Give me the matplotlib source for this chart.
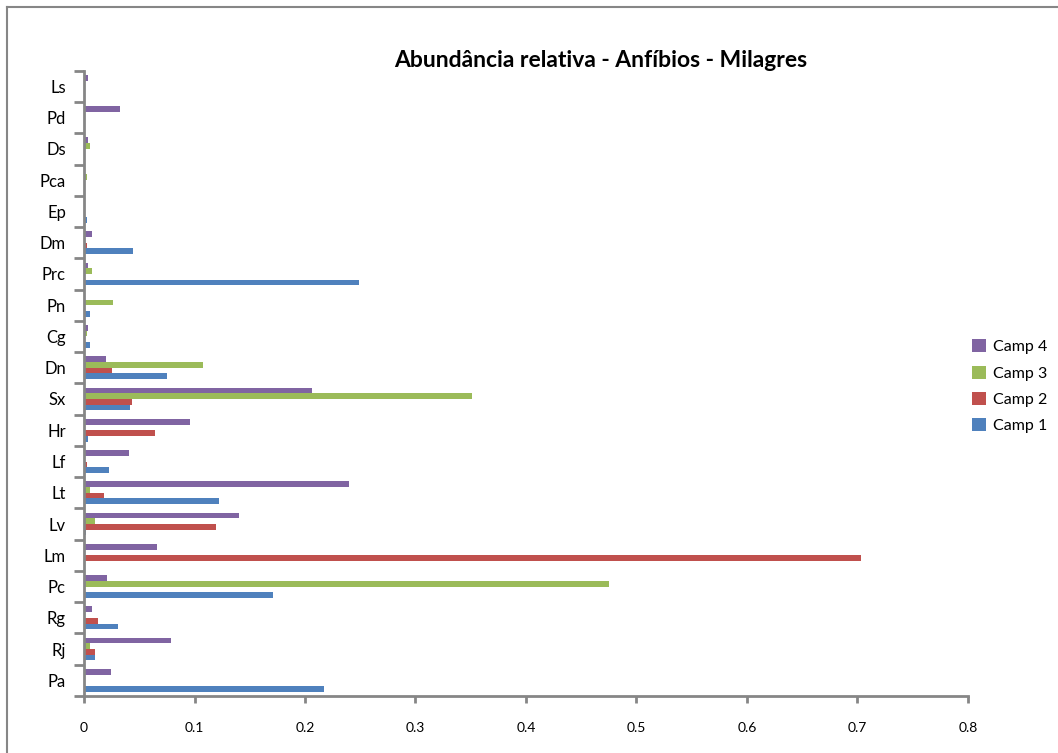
import matplotlib
matplotlib.use("Agg")
import matplotlib.pyplot as plt
import numpy as np
from matplotlib.lines import Line2D

plt.rcParams['font.family'] = ['Lato', 'DejaVu Sans']

# species codes, bottom to top
species = ['Pa', 'Rj', 'Rg', 'Pc', 'Lm', 'Lv', 'Lt', 'Lf', 'Hr', 'Sx',
           'Dn', 'Cg', 'Pn', 'Prc', 'Dm', 'Ep', 'Pca', 'Ds', 'Pd', 'Ls']

camp1 = [0.217, 0.010, 0.0305, 0.171, 0.0, 0.0015, 0.1225, 0.023, 0.004, 0.042,
         0.075, 0.005, 0.005, 0.249, 0.0446, 0.0024, 0.0, 0.0, 0.0, 0.0]
camp2 = [0.0, 0.010, 0.013, 0.0, 0.703, 0.1197, 0.018, 0.0024, 0.064, 0.043,
         0.025, 0.0, 0.0, 0.0, 0.0024, 0.0, 0.0, 0.0, 0.0, 0.0]
camp3 = [0.0, 0.005, 0.0, 0.475, 0.0, 0.010, 0.005, 0.0, 0.0, 0.351,
         0.108, 0.0024, 0.0265, 0.0075, 0.0, 0.0, 0.0024, 0.0054, 0.0, 0.0]
camp4 = [0.0245, 0.079, 0.0075, 0.0205, 0.066, 0.140, 0.2395, 0.041, 0.0956, 0.206,
         0.020, 0.004, 0.0, 0.004, 0.0075, 0.0, 0.0, 0.004, 0.033, 0.004]

series = [('Camp 1', camp1, '#4F81BD'),
          ('Camp 2', camp2, '#C0504D'),
          ('Camp 3', camp3, '#9BBB59'),
          ('Camp 4', camp4, '#8064A2')]

fig = plt.figure(figsize=(10.58, 7.53), dpi=100)
ax = fig.add_axes([0.0794, 0.0757, 0.8355, 0.8304])

y = np.arange(len(species))
bar_h = 1 / 5.5
handles = []
for k, (name, vals, color) in enumerate(series):
    offset = (k - 1.5) * bar_h
    bars = ax.barh(y + offset, vals, height=bar_h, color=color,
                   edgecolor='none', label=name)
    handles.append(bars)

ax.set_xlim(0, 0.8)
ax.set_ylim(-0.5, len(species) - 0.5)
ax.set_xticks(np.arange(0, 0.81, 0.1))
ax.set_xticklabels(['0', '0.1', '0.2', '0.3', '0.4', '0.5', '0.6', '0.7', '0.8'])
ax.set_yticks(y)
ax.set_yticklabels(species)
ax.set_yticks(np.arange(-0.5, len(species), 1.0), minor=True)

axis_gray = '#868686'
for side in ('top', 'right'):
    ax.spines[side].set_visible(False)
for side in ('left', 'bottom'):
    ax.spines[side].set_color(axis_gray)
    ax.spines[side].set_linewidth(2)

ax.tick_params(axis='y', which='major', length=0, pad=13, labelsize=12)
ax.tick_params(axis='y', which='minor', length=7, width=2, color=axis_gray, direction='out')
ax.tick_params(axis='x', which='major', length=5, width=2, color=axis_gray,
               direction='out', pad=14, labelsize=10)

fig.text(0.568, 0.919, 'Abundância relativa - Anfíbios - Milagres',
         ha='center', va='center', fontsize=16.5, fontweight='bold')

fig.legend(handles[::-1], [s[0] for s in series][::-1],
           loc='center left', bbox_to_anchor=(0.905, 0.487),
           frameon=False, fontsize=11.5, handlelength=0.9, handleheight=0.9,
           handletextpad=0.4, labelspacing=0.7)

# chart area frame
fig.add_artist(Line2D([7 / 1058, 7 / 1058], [1 - 7 / 753, 0], transform=fig.transFigure,
                      color=axis_gray, linewidth=1.5))
fig.add_artist(Line2D([7 / 1058, 1], [1 - 7 / 753, 1 - 7 / 753], transform=fig.transFigure,
                      color=axis_gray, linewidth=1.5))

fig.savefig('out.png', dpi=100)
